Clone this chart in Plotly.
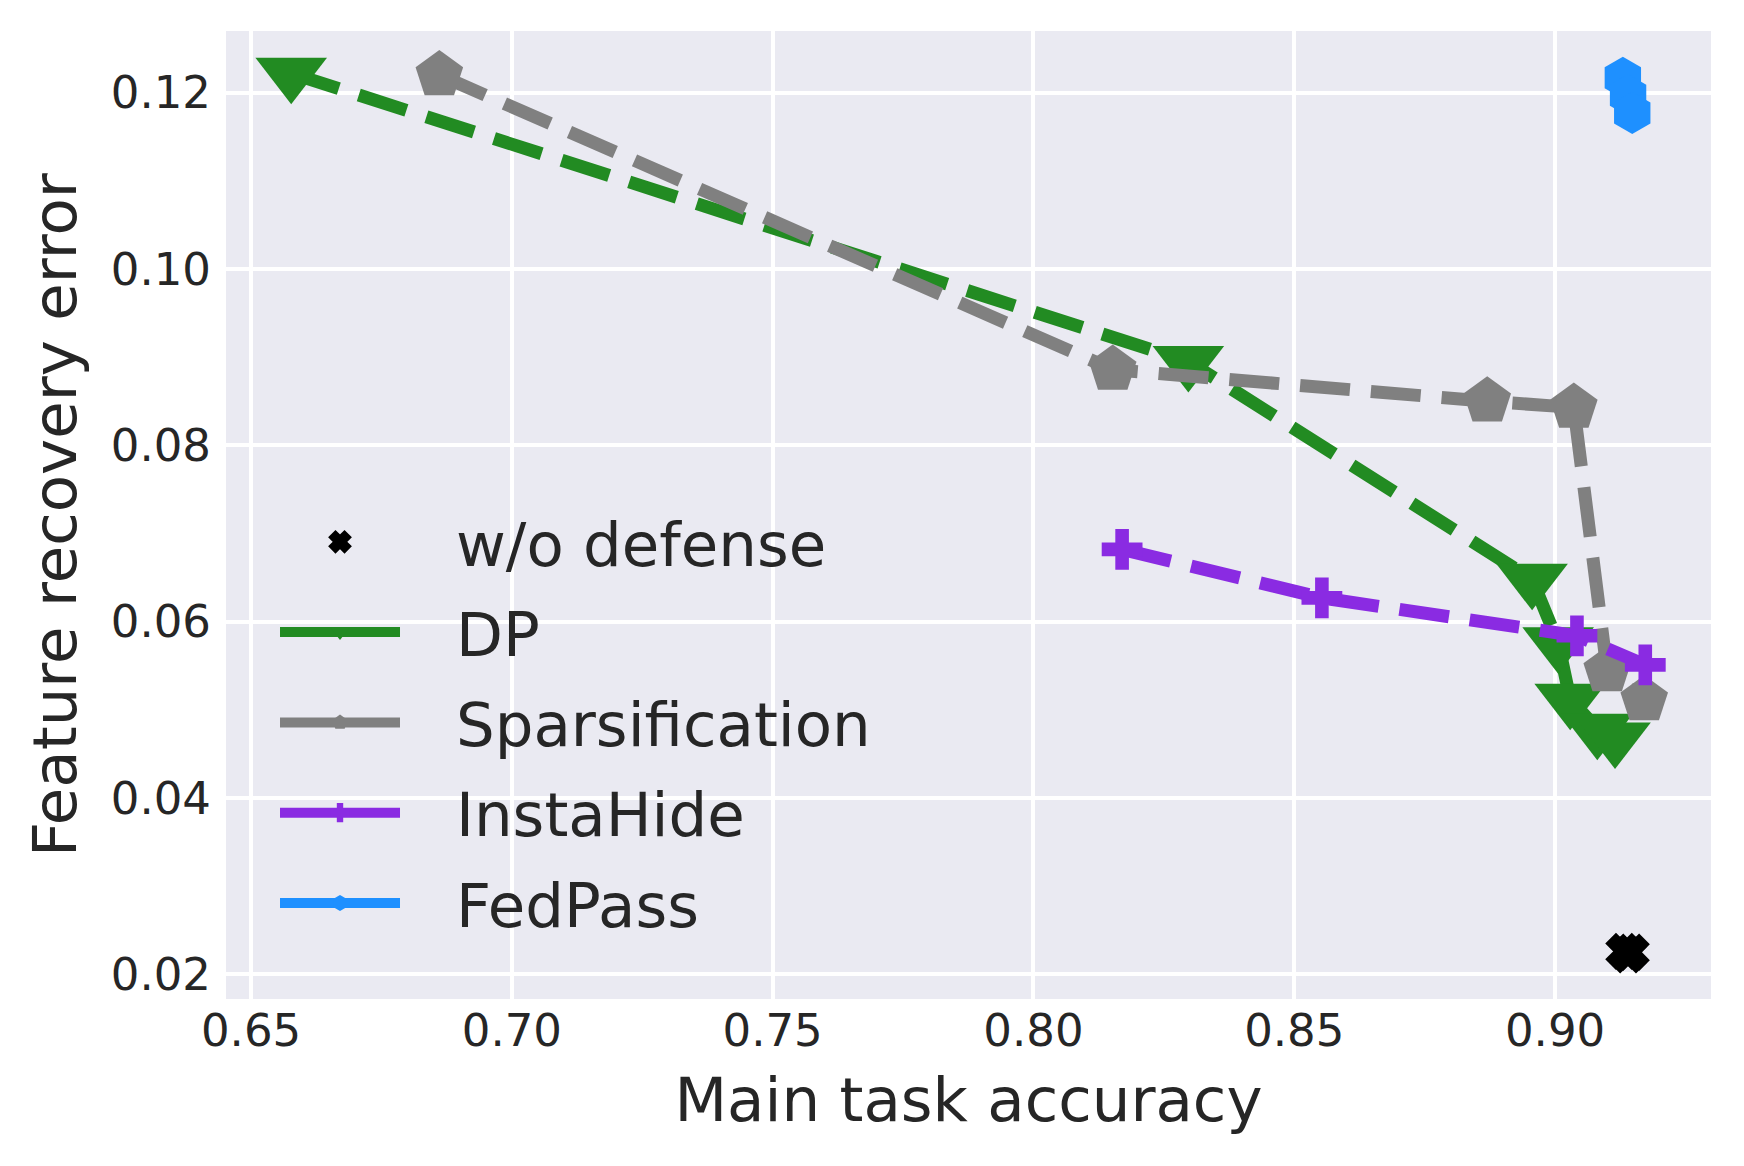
import plotly.graph_objects as go

# values
nodef_acc = [0.9132, 0.9140, 0.9146]
nodef_err = [0.0226, 0.0222, 0.0225]

dp_acc = [0.6577, 0.8297, 0.8956, 0.9006, 0.9029, 0.9081, 0.9115]
dp_err = [0.1222, 0.0895, 0.0648, 0.0576, 0.0512, 0.0478, 0.0468]

sp_acc = [0.6861, 0.8152, 0.8870, 0.9036, 0.9100, 0.9171]
sp_err = [0.1220, 0.0886, 0.0850, 0.0843, 0.0544, 0.0511]

ih_acc = [0.8170, 0.8553, 0.9042, 0.9173]
ih_err = [0.0682, 0.0627, 0.0584, 0.0551]

fp_acc = [0.9130, 0.9140, 0.9148]
fp_err = [0.1217, 0.1197, 0.1177]

x_ticks = [0.65, 0.70, 0.75, 0.80, 0.85, 0.90]
y_ticks = [0.02, 0.04, 0.06, 0.08, 0.10, 0.12]

FONT = "DejaVu Sans"
TXT = "#262626"
DASH = "50px,21px"
LW = 13
GAP = "\u00a0\u00a0\u2009"

series = [
    # name, x, y, colour, symbol, size, marker outline, line?
    ("w/o defense", nodef_acc, nodef_err, "black", "x", 28, 4, False),
    ("DP", dp_acc, dp_err, "#228B22", "triangle-down", 62, 0, True),
    ("Sparsification", sp_acc, sp_err, "#808080", "pentagon", 50, 0, True),
    ("InstaHide", ih_acc, ih_err, "#8A2BE2", "cross", 34, 0, True),
    ("FedPass", fp_acc, fp_err, "#1E90FF", "hexagon", 42, 0, True),
]

fig = go.Figure()

for name, xs, ys, col, sym, sz, olw, has_line in series:
    mode = "lines+markers" if has_line else "markers"
    fig.add_trace(go.Scatter(
        x=xs, y=ys, mode=mode, name=name, showlegend=False,
        line=dict(color=col, width=LW, dash=DASH),
        marker=dict(symbol=sym, size=sz, color=col,
                    line=dict(color=col, width=olw)),
    ))

# legend entries drawn with solid lines, like the matplotlib legend
for i, (name, xs, ys, col, sym, sz, olw, has_line) in enumerate(series):
    mode = "lines+markers" if has_line else "markers"
    fig.add_trace(go.Scatter(
        x=[None], y=[None], mode=mode, name=GAP + name,
        legendgroup=str(i),
        line=dict(color=col, width=LW),
        marker=dict(symbol=sym, size=sz, color=col,
                    line=dict(color=col, width=olw)),
    ))

fig.update_layout(
    width=1744, height=1166,
    margin=dict(l=218, r=41, t=23, b=175),
    paper_bgcolor="white",
    plot_bgcolor="#EAEAF2",
    font=dict(family=FONT, color=TXT),
    legend=dict(
        x=0.033, y=0.52, xanchor="left", yanchor="top",
        bgcolor="rgba(0,0,0,0)",
        font=dict(size=61, color=TXT),
        itemwidth=120,
        traceorder="grouped",
        tracegroupgap=8,
    ),
)

fig.update_xaxes(
    range=[0.6452, 0.9299],
    tickvals=x_ticks, ticktext=[f"{v:.2f}" for v in x_ticks],
    tickfont=dict(size=45, color=TXT),
    ticklabelstandoff=1,
    showgrid=True, gridcolor="white", gridwidth=3.5,
    zeroline=False, showline=False,
    title=dict(text="Main task accuracy", font=dict(size=61, color=TXT), standoff=22),
)
fig.update_yaxes(
    range=[0.0172, 0.1270],
    tickvals=y_ticks, ticktext=[f"{v:.2f}" for v in y_ticks],
    tickfont=dict(size=45, color=TXT),
    ticklabelstandoff=14,
    showgrid=True, gridcolor="white", gridwidth=3.5,
    zeroline=False, showline=False,
    title=dict(text="Feature recovery error", font=dict(size=61, color=TXT), standoff=14),
)

fig.write_html("out.html")
